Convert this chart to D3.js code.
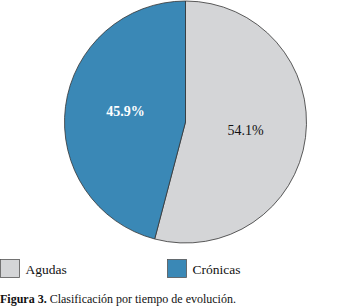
<!DOCTYPE html>
<style>
body { margin: 0; background: #fff; }
</style>
<svg width="361" height="308"></svg>
<script src="https://d3js.org/d3.v7.min.js"></script>
<script>

var categories = ["Agudas", "Crónicas"];
var values = [54.1, 45.9];
var colors = ["#d4d5d7", "#3a88b6"];

var font = "'Liberation Serif', 'Times New Roman', serif";

var svg = d3.select("svg"),
    cx = 185.5, cy = 122, radius = 121;

var data = categories.map(function(c, i) { return {name: c, value: values[i]}; });

var pie = d3.pie().sort(null).value(function(d) { return d.value; });
var arc = d3.arc().innerRadius(0).outerRadius(radius);
var z = d3.scaleOrdinal().domain(categories).range(colors);

var g = svg.append("g").attr("transform", "translate(" + cx + "," + cy + ")");

var arcs = pie(data);

g.selectAll("path")
  .data(arcs)
  .enter().append("path")
    .attr("d", arc)
    .attr("fill", function(d) { return z(d.data.name); })
    .attr("stroke", "#333")
    .attr("stroke-width", 0.8);

// label positions
var labelArc = d3.arc().innerRadius(radius * 0.5).outerRadius(radius * 0.5);

g.selectAll("text.lbl")
  .data(arcs)
  .enter().append("text")
    .attr("class", "lbl")
    .attr("transform", function(d) {
      var p = labelArc.centroid(d);
      return "translate(" + p[0] + "," + (p[1] - (d.index === 1 ? 3 : 0)) + ")";
    })
    .attr("text-anchor", "middle")
    .attr("dy", "0.35em")
    .attr("font-size", 14)
    .style("font-family", font)
    .attr("font-weight", function(d, i) { return i === 1 ? "bold" : "normal"; })
    .attr("fill", function(d, i) { return i === 1 ? "#fff" : "#111"; })
    .text(function(d) { return d3.format(".1f")(d.data.value) + "%"; });

// legend
var legendX = [0.5, 167.5];
var legend = svg.selectAll("g.legend")
  .data(categories)
  .enter().append("g")
    .attr("class", "legend")
    .attr("transform", function(d, i) { return "translate(" + legendX[i] + ",259.5)"; });

legend.append("rect")
    .attr("width", 19)
    .attr("height", 18)
    .attr("fill", z)
    .attr("stroke", "#555")
    .attr("stroke-width", 0.8);

legend.append("text")
    .attr("x", 25)
    .attr("y", 14.5)
    .attr("font-size", 13.5)
    .style("font-family", font)
    .attr("fill", "#111")
    .text(function(d) { return d; });

// caption
var cap = svg.append("text")
    .attr("x", 0)
    .attr("y", 303)
    .attr("font-size", 12)
    .style("font-family", font)
    .attr("fill", "#111");
cap.append("tspan").attr("font-weight", "bold").text("Figura 3.");
cap.append("tspan").text(" Clasificación por tiempo de evolución.");

</script>
